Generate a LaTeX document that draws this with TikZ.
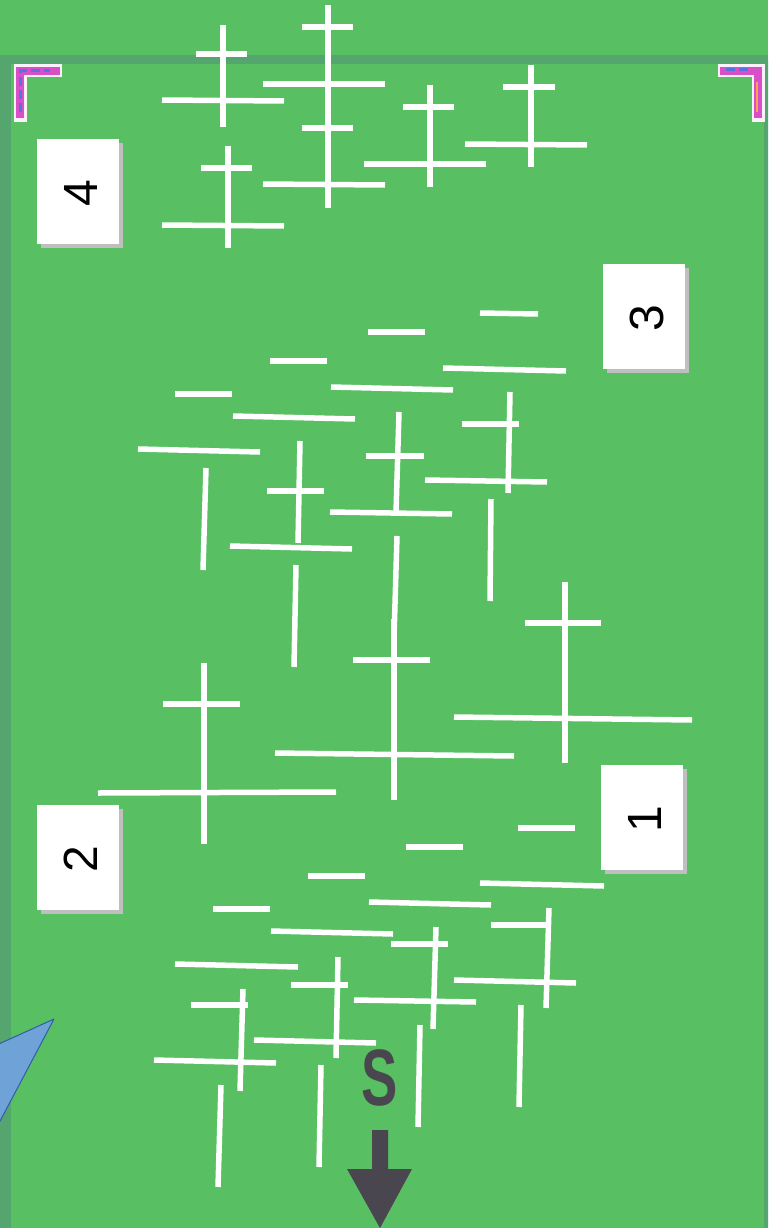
\documentclass[tikz,border=0pt]{standalone}
\usepackage{fontspec}
\setmainfont{Liberation Sans}
\usetikzlibrary{shadows}
\definecolor{bggreen}{HTML}{58BF62}
\definecolor{bandgreen}{HTML}{55A56F}
\definecolor{darkmark}{HTML}{4A4650}
\definecolor{tribluefill}{HTML}{6FA3D8}
\definecolor{tribluedraw}{HTML}{2F5DA8}
\definecolor{pinkmark}{HTML}{D84FC8}
\definecolor{bluemark}{HTML}{5A6FE0}
\tikzset{
  barline/.style={draw=white,line width=5.5pt},
  bandline/.style={draw=bandgreen,line width=9pt},
  numbox/.style={fill=white,minimum width=82pt,minimum height=105pt,inner sep=0pt,
    drop shadow={shadow xshift=4pt,shadow yshift=-4pt,fill=black!25,opacity=1}},
  numtext/.style={font=\fontsize{48}{48}\selectfont,text=black,inner sep=0pt,rotate=90},
  halo/.style={draw=white!92!pinkmark,line width=13pt,line join=miter},
  markpink/.style={draw=pinkmark,line width=8pt,line join=miter},
  markblue/.style={draw=bluemark,line width=3pt,dash pattern=on 9pt off 4pt}
}
\begin{document}
\begin{tikzpicture}[x=1pt,y=-1pt]
\clip (0,0) rectangle (768,1228);
\fill[bggreen] (0,0) rectangle (768,1228);
% frame band
\draw[bandline] (0,60) -- (768,60);
\draw[bandline,line width=11pt] (5,60) -- (5,1228);
\draw[bandline,line width=5pt] (766,60) -- (766,1228);
% bars
\foreach \a/\b/\c/\d in {
 223/25/223/127, 196/54/247/54, 162/100/284/101,
 328/5/328/208, 302/27/353/27, 263/84/385/84, 302/128/353/128, 263/184/385/185,
 430/85/430/187, 403/107/454/107, 364/164/486/164,
 531/65/531/167, 503/87/555/87, 465/144/587/145,
 228/146/228/248, 201/168/252/168, 162/225/284/226,
 480/313/538/314, 443/368/566/371, 510/392/508/493, 462/424/519/424, 425/480/547/482, 491/499/490/601,
 368/332/425/332, 331/387/453/390, 399/412/396/513, 366/456/424/456, 330/512/452/514, 397/536/394/638,
 270/361/327/361, 233/416/355/419, 300/441/298/543, 267/491/324/491, 230/546/352/549, 296/565/294/667,
 175/394/232/394, 138/449/260/452, 206/468/203/570,
 565/582/565/763, 525/623/601/623, 454/717/692/720,
 394/619/394/800, 353/660/430/660, 275/753/514/756,
 204/663/204/844, 163/704/240/704, 98/793/336/792,
 518/828/575/828, 480/883/604/886, 549/908/546/1008, 491/925/549/925, 454/980/576/983, 521/1005/519/1107,
 406/847/463/847, 369/902/491/905, 436/927/433/1029, 391/944/448/944, 354/1000/476/1002, 420/1025/418/1127,
 308/876/365/876, 271/931/393/934, 338/957/336/1058, 291/985/348/985, 254/1040/376/1043, 321/1065/319/1167,
 213/909/270/909, 175/964/298/967, 243/989/240/1091, 191/1005/248/1005, 154/1060/276/1063, 221/1085/218/1187
}{\draw[barline] (\a,\b) -- (\c,\d);}
% number boxes
\node[numbox] (box4) at (78,191.5) {};
\node[numtext] (num4) at ([shift={(3,2)}]box4.center) {4};
\node[numbox] (box3) at (643.5,316.5) {};
\node[numtext] (num3) at ([shift={(3,2)}]box3.center) {3};
\node[numbox] (box1) at (642,817.5) {};
\node[numtext] (num1) at ([shift={(3,2)}]box1.center) {1};
\node[numbox] (box2) at (78,857.5) {};
\node[numtext] (num2) at ([shift={(3,2)}]box2.center) {2};
% corner marks
\draw[halo] (20,122) -- (20,71) -- (62,71);
\draw[markpink] (20,118) -- (20,71) -- (60,71);
\draw[markblue] (20,112) -- (20,71) -- (50,71);
\draw[halo] (718,71) -- (758,71) -- (758,122);
\draw[markpink] (720,71) -- (758,71) -- (758,118);
\draw[markblue] (726,70) -- (750,70);
\draw[draw=orange!70!white,line width=2.5pt] (757,82) -- (757,112);
% blue triangle
\draw[fill=tribluefill,draw=tribluedraw,line width=1pt,line join=round] (54,1019) -- (-10,1048) -- (-10,1140) -- cycle;
% compass
\node[font=\bfseries\fontsize{80}{80}\selectfont,text=darkmark,inner sep=0pt,xscale=.68] (south) at (380,1078) {S};
\fill[darkmark] (372,1130) -- (388,1130) -- (388,1169) -- (412,1169) -- (380,1228) -- (347,1169) -- (372,1169) -- cycle;
\end{tikzpicture}
\end{document}
